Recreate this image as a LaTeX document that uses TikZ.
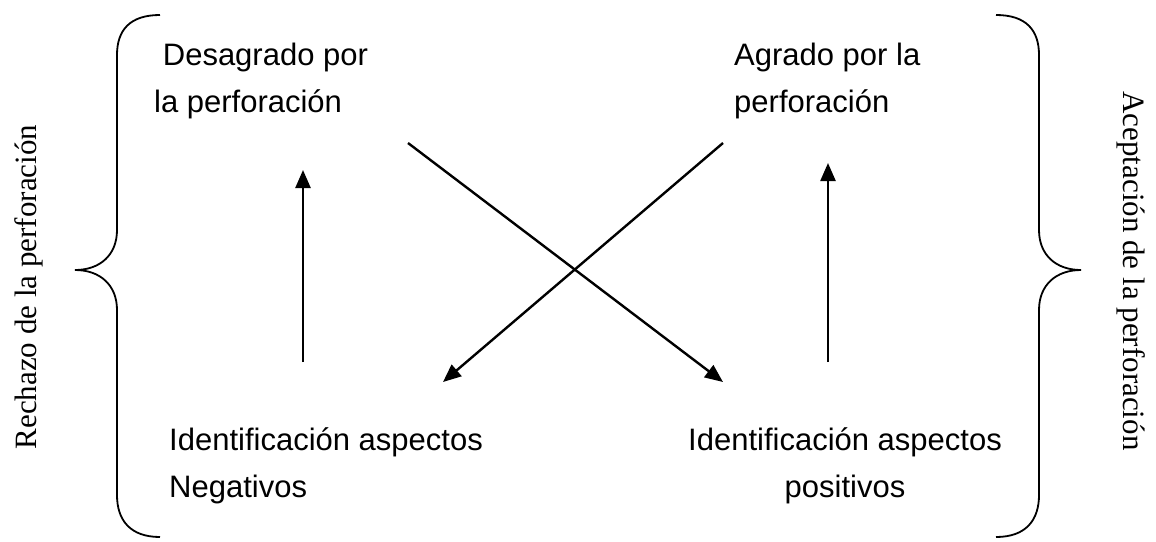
\documentclass[tikz,border=0pt]{standalone}
\usepackage{fontspec}
\setmainfont{Liberation Serif}
\setsansfont{Liberation Sans}
\usetikzlibrary{arrows.meta}
\tikzstyle{brace} = [draw,line width=0.9pt,-]

\begin{document}
\begin{tikzpicture}[x=0.5pt,y=-0.5pt,->,>={Triangle[length=9pt,width=7.5pt]},line width=1.2pt,
  text node/.style={font=\sffamily\fontsize{15.5}{23.5}\selectfont,inner sep=0pt},
  side node/.style={font=\fontsize{15.5}{18}\selectfont,inner sep=0pt}]
  \useasboundingbox (0,0) rectangle (1156,541);

  \node[text node,align=left,anchor=base west] (1) at (153,112) {\hspace*{0.28em}Desagrado por\\la perforación};
  \node[text node,align=left,anchor=base west] (2) at (733,112) {Agrado por la\\perforación};
  \node[text node,align=left,anchor=base west] (3) at (168,497) {Identificación aspectos\\Negativos};
  \node[text node,align=center,anchor=base] (4) at (845,497) {Identificación aspectos\\positivos};

  \node[side node,rotate=90] (5) at (29,287) {Rechazo de la perforación};
  \node[side node,rotate=-90] (6) at (1131,271) {Aceptación de la perforación};

  % arrow ends
  \coordinate (1a) at (303,170);
  \coordinate (3a) at (303,362);
  \coordinate (2a) at (828,163);
  \coordinate (4a) at (828,362);
  \coordinate (1b) at (408,143);
  \coordinate (4b) at (723,382);
  \coordinate (2b) at (723,143);
  \coordinate (3b) at (443,382);

  \path
    (3a) edge (1a)
    (4a) edge (2a)
    (1b) edge (4b)
    (2b) edge (3b);

  % braces
  \path[brace] (160,15) .. controls (130,15) and (117,30) .. (117,55) -- (117,230)
    .. controls (117,255) and (100,270) .. (75,270)
    .. controls (100,270) and (117,285) .. (117,310) -- (117,495)
    .. controls (117,520) and (130,537) .. (160,537);
  \path[brace] (996,15) .. controls (1026,15) and (1039,30) .. (1039,55) -- (1039,230)
    .. controls (1039,255) and (1056,270) .. (1081,270)
    .. controls (1056,270) and (1039,285) .. (1039,310) -- (1039,495)
    .. controls (1039,520) and (1026,537) .. (996,537);

\end{tikzpicture}
\end{document}
